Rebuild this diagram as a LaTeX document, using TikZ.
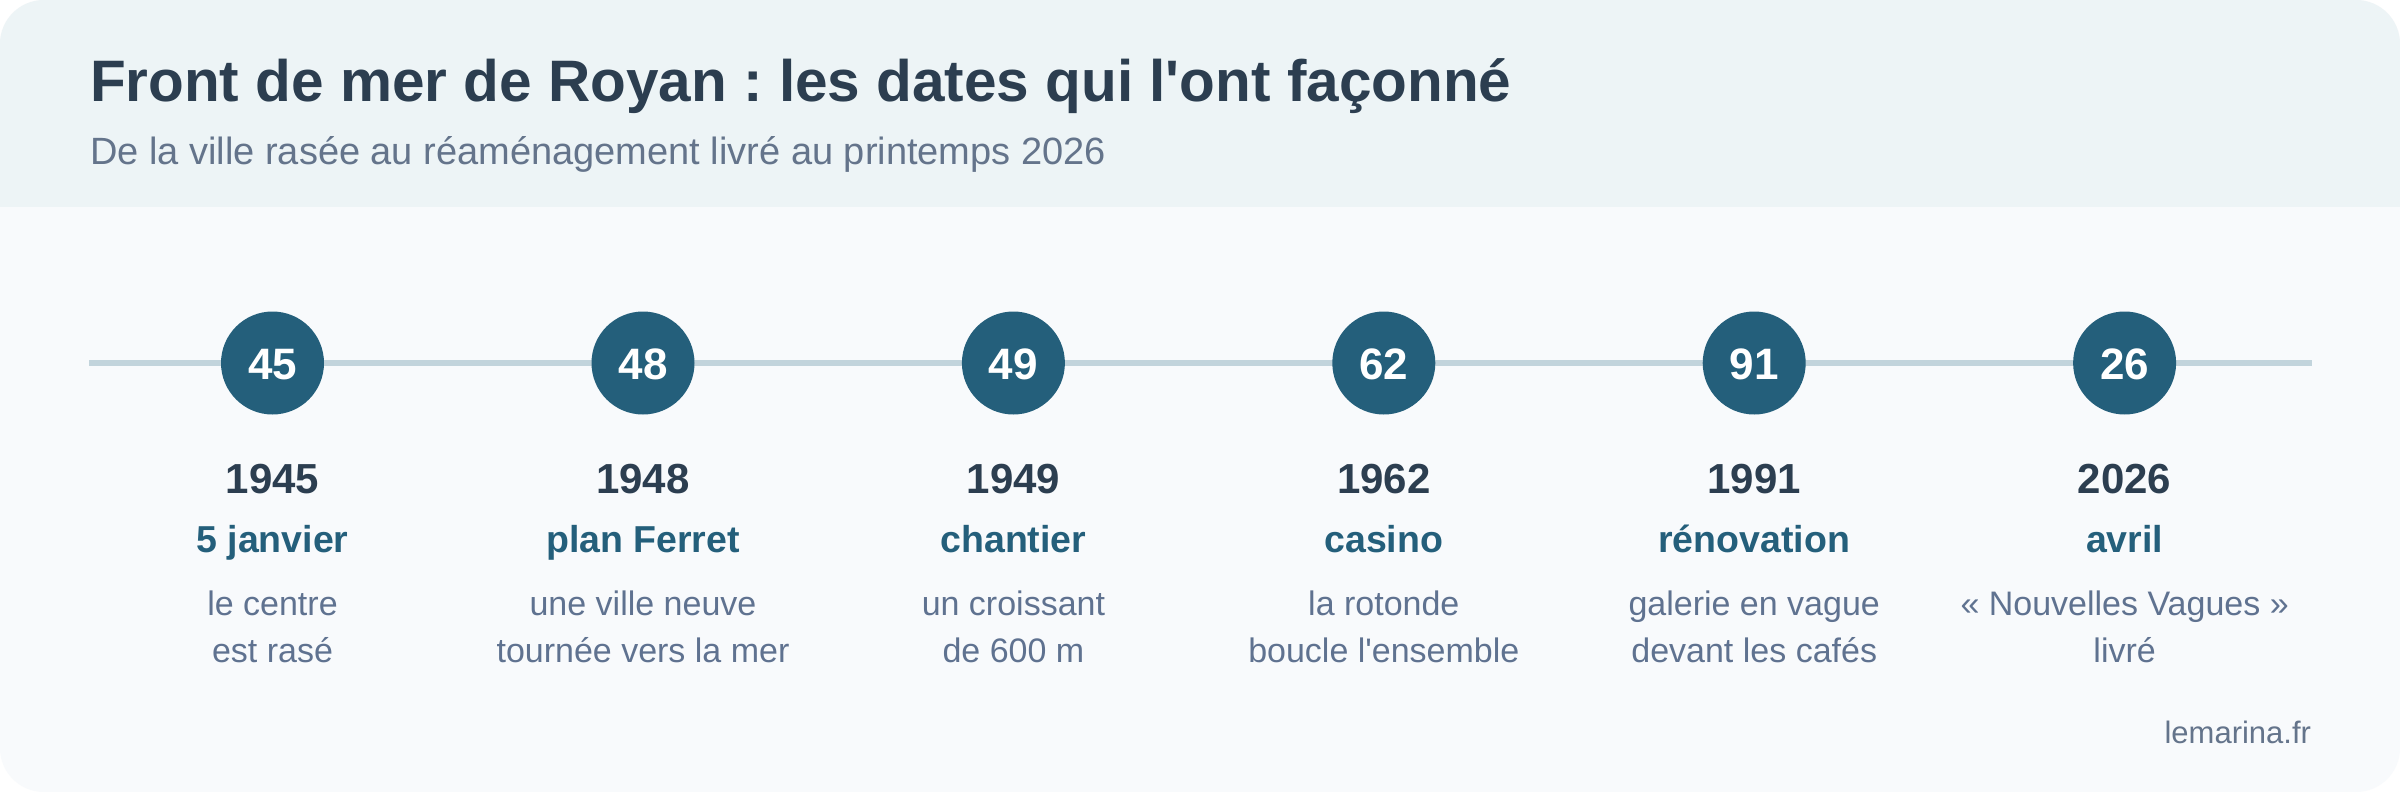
\documentclass[tikz,border=0pt]{standalone}
\usepackage{fontspec}
\setmainfont{Liberation Sans}
\frenchspacing
\definecolor{headbg}{HTML}{EDF4F6}
\definecolor{bodybg}{HTML}{F8FAFC}
\definecolor{titlec}{HTML}{2C3E50}
\definecolor{subc}{HTML}{64748B}
\definecolor{descc}{HTML}{5F7290}
\definecolor{tealc}{HTML}{245F7B}
\definecolor{linec}{HTML}{C2D4DC}
\tikzset{
  every node/.style={inner sep=0pt, outer sep=0pt},
  titlestyle/.style={anchor=base west, text=titlec, font=\fontsize{58.5}{70}\selectfont\bfseries},
  substyle/.style={anchor=base west, text=subc, font=\fontsize{38}{46}\selectfont},
  dot/.style={circle, fill=tealc, minimum size=103pt},
  numstyle/.style={anchor=base, text=white, font=\fontsize{44}{52}\selectfont\bfseries},
  yearstyle/.style={anchor=base, text=titlec, font=\fontsize{42}{50}\selectfont\bfseries},
  labstyle/.style={anchor=base, text=tealc, font=\fontsize{37.5}{44}\selectfont\bfseries},
  descstyle/.style={anchor=base, text=descc, font=\fontsize{34}{40}\selectfont},
  footstyle/.style={anchor=base east, text=subc, font=\fontsize{31}{36}\selectfont},
  tline/.style={draw=linec, line width=6pt}
}
\begin{document}
\begin{tikzpicture}[x=1pt,y=-1pt]
\useasboundingbox (0,0) rectangle (2400,792);
\fill[white] (0,0) rectangle (2400,792);
\begin{scope}
  \clip[rounded corners=44pt] (0,0) rectangle (2400,792);
  \fill[bodybg] (0,0) rectangle (2400,792);
  \fill[headbg] (0,0) rectangle (2400,207);
\end{scope}
\node[titlestyle] (title) at (90,101) {Front de mer de Royan : les dates qui l\textquotesingle ont façonné};
\node[substyle] (sub) at (90,164) {De la ville rasée au réaménagement livré au printemps 2026};
\coordinate (ls) at (89,363);
\coordinate (le) at (2312,363);
\draw[tline] (ls) -- (le);
\foreach \i/\x/\n/\yr/\lab/\da/\db in {
  1/272.5/45/1945/5 janvier/le centre/est rasé,
  2/643/48/1948/plan Ferret/une ville neuve/tournée vers la mer,
  3/1013.4/49/1949/chantier/un croissant/de 600 m,
  4/1383.8/62/1962/casino/la rotonde/boucle l\textquotesingle ensemble,
  5/1754.2/91/1991/rénovation/galerie en vague/devant les cafés,
  6/2124.6/26/2026/avril/« Nouvelles Vagues »/livré}{
  \node[dot] (c\i) at (\x,363) {};
  \node[numstyle] (n\i) at (\x,379) {\n};
  \node[yearstyle] (y\i) at (\x,493) {\yr};
  \node[labstyle] (l\i) at (\x,552) {\lab};
  \node[descstyle] (da\i) at (\x,615) {\da};
  \node[descstyle] (db\i) at (\x,662) {\db};
}
\node[footstyle] (foot) at (2311,743) {lemarina.fr};
\end{tikzpicture}
\end{document}
